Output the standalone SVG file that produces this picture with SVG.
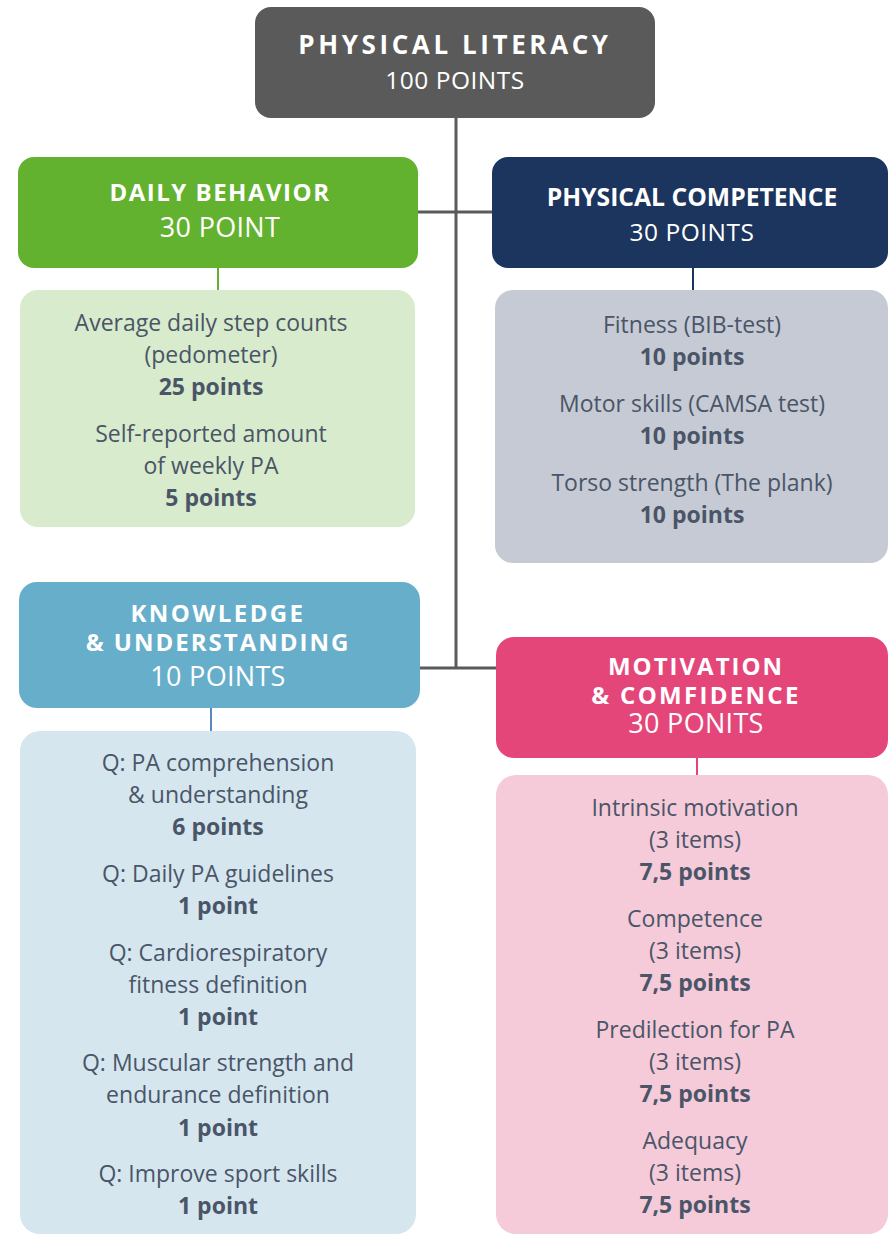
<svg xmlns="http://www.w3.org/2000/svg" width="889" height="1234" viewBox="0 0 889 1234">
<style>
text{font-family:"Open Sans","Liberation Sans",sans-serif;text-anchor:middle}
.h{fill:#fff;font-size:24px;font-weight:700;letter-spacing:2px}
.s{fill:#fff;font-size:24.5px;letter-spacing:0.5px}
.sl{fill:#fff;font-size:27px;letter-spacing:0.3px}
.b{fill:#4a5568;font-size:23px}
.bb{fill:#4a5568;font-size:23px;font-weight:700}
.ln{stroke:#5a5a5a;stroke-width:3;fill:none}
</style>
<rect width="889" height="1234" fill="#fff"/>
<g id="connectors">
<path class="ln" d="M456 118V668M418 212H492M420 668H496"/>
<path d="M218 268V290" stroke="#62b22f" stroke-width="2"/>
<path d="M693 268V290" stroke="#1c355e" stroke-width="2"/>
<path d="M211 708V731" stroke="#5b86c4" stroke-width="2"/>
<path d="M697 758V775" stroke="#e4467a" stroke-width="2"/>
</g>
<g id="physical-literacy">
<rect x="255" y="7" width="400" height="111" rx="16" fill="#5a5a5a"/>
<text class="h" x="455" y="54" style="letter-spacing:3.6px;font-size:26px">PHYSICAL LITERACY</text>
<text class="s" x="455" y="89">100 POINTS</text>
</g>
<g id="daily-behavior">
<rect x="18" y="157" width="400" height="111" rx="16" fill="#62b22f"/>
<text class="h" x="220" y="201" style="letter-spacing:1.5px">DAILY BEHAVIOR</text>
<text class="sl" x="220" y="237">30 POINT</text>
</g>
<g id="daily-behavior-items">
<rect x="20" y="290" width="395" height="237" rx="18" fill="#d8ebcc"/>
<text class="b" x="211" y="331">Average daily step counts</text>
<text class="b" x="211" y="363">(pedometer)</text>
<text class="bb" x="211" y="395">25 points</text>
<text class="b" x="211" y="442">Self-reported amount</text>
<text class="b" x="211" y="474">of weekly PA</text>
<text class="bb" x="211" y="506">5 points</text>
</g>
<g id="physical-competence">
<rect x="492" y="157" width="396" height="111" rx="16" fill="#1c355e"/>
<text class="h" x="692" y="206" style="letter-spacing:0;font-size:24.7px">PHYSICAL COMPETENCE</text>
<text class="s" x="692" y="241">30 POINTS</text>
</g>
<g id="physical-competence-items">
<rect x="495" y="290" width="393" height="273" rx="18" fill="#c5cad4"/>
<text class="b" x="692" y="333">Fitness (BIB-test)</text>
<text class="bb" x="692" y="365">10 points</text>
<text class="b" x="692" y="412">Motor skills (CAMSA test)</text>
<text class="bb" x="692" y="444">10 points</text>
<text class="b" x="692" y="491">Torso strength (The plank)</text>
<text class="bb" x="692" y="523">10 points</text>
</g>
<g id="knowledge">
<rect x="19" y="582" width="401" height="126" rx="18" fill="#67aecb"/>
<text class="h" x="218" y="622" style="letter-spacing:2.4px">KNOWLEDGE</text>
<text class="h" x="218" y="651">&amp; UNDERSTANDING</text>
<text class="sl" x="218" y="686">10 POINTS</text>
</g>
<g id="knowledge-items">
<rect x="20" y="731" width="396" height="503" rx="20" fill="#d5e6ef"/>
<text class="b" x="218" y="771">Q: PA comprehension</text>
<text class="b" x="218" y="803">&amp; understanding</text>
<text class="bb" x="218" y="835">6 points</text>
<text class="b" x="218" y="882">Q: Daily PA guidelines</text>
<text class="bb" x="218" y="914">1 point</text>
<text class="b" x="218" y="961">Q: Cardiorespiratory</text>
<text class="b" x="218" y="993">fitness definition</text>
<text class="bb" x="218" y="1025">1 point</text>
<text class="b" x="218" y="1071">Q: Muscular strength and</text>
<text class="b" x="218" y="1103">endurance definition</text>
<text class="bb" x="218" y="1136">1 point</text>
<text class="b" x="218" y="1182">Q: Improve sport skills</text>
<text class="bb" x="218" y="1214">1 point</text>
</g>
<g id="motivation">
<rect x="496" y="637" width="392" height="121" rx="18" fill="#e4467a"/>
<text class="h" x="696" y="675">MOTIVATION</text>
<text class="h" x="696" y="704" style="letter-spacing:2.3px">&amp; COMFIDENCE</text>
<text class="sl" x="696" y="733">30 PONITS</text>
</g>
<g id="motivation-items">
<rect x="496" y="775" width="392" height="459" rx="20" fill="#f5cad9"/>
<text class="b" x="695" y="816">Intrinsic motivation</text>
<text class="b" x="695" y="848">(3 items)</text>
<text class="bb" x="695" y="880">7,5 points</text>
<text class="b" x="695" y="927">Competence</text>
<text class="b" x="695" y="959">(3 items)</text>
<text class="bb" x="695" y="991">7,5 points</text>
<text class="b" x="695" y="1038">Predilection for PA</text>
<text class="b" x="695" y="1070">(3 items)</text>
<text class="bb" x="695" y="1102">7,5 points</text>
<text class="b" x="695" y="1149">Adequacy</text>
<text class="b" x="695" y="1181">(3 items)</text>
<text class="bb" x="695" y="1213">7,5 points</text>
</g>
</svg>
